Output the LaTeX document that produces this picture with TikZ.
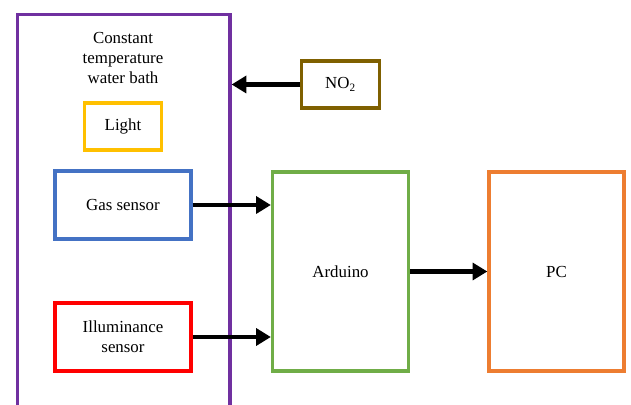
\documentclass[tikz,border=0pt]{standalone}
\usepackage{fontspec}
\setmainfont{Liberation Serif}
\usetikzlibrary{arrows.meta,positioning}
\definecolor{bathpurple}{HTML}{7030A0}
\definecolor{lightyellow}{HTML}{FFC000}
\definecolor{gasbrown}{HTML}{7F6000}
\definecolor{sensorblue}{HTML}{4472C4}
\definecolor{sensorred}{HTML}{FF0000}
\definecolor{boardgreen}{HTML}{70AD47}
\definecolor{pcorange}{HTML}{ED7D31}
\tikzset{
  ubox/.style={draw, line width=2.3pt, align=center, inner sep=2pt, fill=white, font=\fontsize{12}{14.5}\selectfont},
  smallbox/.style={ubox, minimum width=1.94cm, minimum height=1.175cm},
  sensorbox/.style={ubox, minimum width=3.4cm, minimum height=1.7cm},
  tallbox/.style={ubox, minimum width=3.4cm, minimum height=4.975cm},
  utxt/.style={align=center, inner sep=0pt, font=\fontsize{12}{14.2}\selectfont},
  uarrow/.style={-{Triangle[length=10.5pt,width=12pt]}, line width=3.2pt}
}
\begin{document}
\begin{tikzpicture}[x=0.025cm,y=-0.025cm]
\useasboundingbox (0,0) rectangle (631,405);
\node[ubox, draw=bathpurple, minimum width=5.31cm, minimum height=10.5cm] (bath) at (123.75,224.5) {};
\node[utxt] (bathtxt) at (123,58) {Constant\\temperature\\water bath};
\node[smallbox, draw=lightyellow] (light) at (123,126.5) {Light};
\node[smallbox, draw=gasbrown] (no2) at (340.5,84.5) {NO\textsubscript{2}};
\node[sensorbox, draw=sensorblue] (gas) at (123,205) {Gas sensor};
\node[sensorbox, draw=sensorred] (illum) at (123,337) {Illuminance\\sensor};
\node[tallbox, draw=boardgreen] (arduino) at (340.5,271.5) {Arduino};
\node[tallbox, draw=pcorange, minimum width=3.375cm] (pc) at (556.5,271.5) {PC};

\draw[uarrow] (no2.west) -- (bath.east |- no2.west);
\draw[uarrow] (gas.east) -- (arduino.west |- gas.east);
\draw[uarrow] (illum.east) -- (arduino.west |- illum.east);
\draw[uarrow] (arduino.east) -- (pc.west);
\end{tikzpicture}
\end{document}
